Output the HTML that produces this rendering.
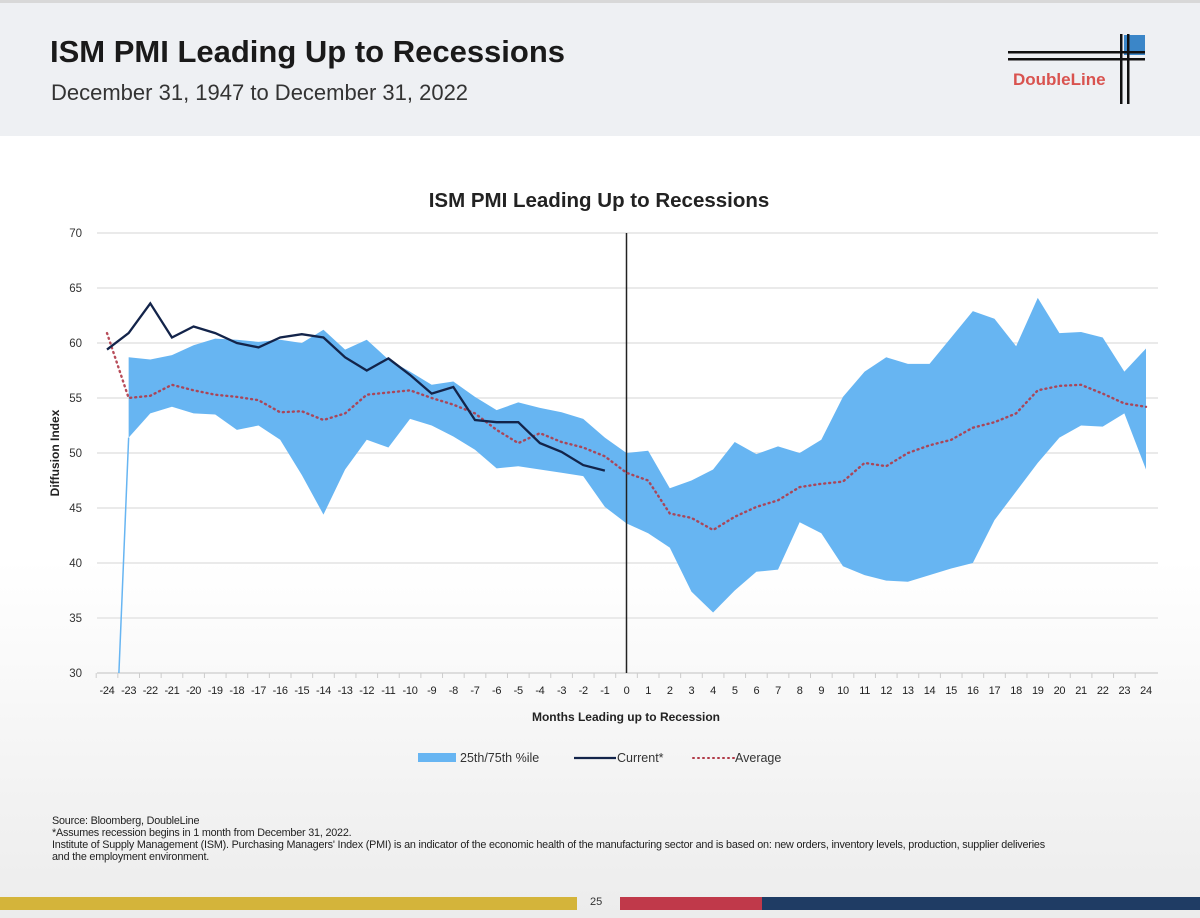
<!DOCTYPE html>
<html><head><meta charset="utf-8"><style>
html,body{margin:0;padding:0;}
body{width:1200px;height:918px;overflow:hidden;font-family:"Liberation Sans",sans-serif;background:linear-gradient(#fff 0px,#fff 560px,#ececec 918px);position:relative;}
.hdr{position:absolute;left:0;top:0;width:1200px;height:136px;background:#eef0f3;border-top:3px solid #d8d8d8;box-sizing:border-box;}
.t1{position:absolute;left:50px;top:31px;font-size:31px;font-weight:bold;color:#1a1a1a;}
.t2{position:absolute;left:51px;top:77px;font-size:22px;color:#333;}
.foot{position:absolute;left:52px;font-size:10.8px;color:#222;line-height:12px;letter-spacing:-0.2px;}
</style></head><body>
<div class="hdr">
<div class="t1">ISM PMI Leading Up to Recessions</div>
<div class="t2">December 31, 1947 to December 31, 2022</div>
<svg style="position:absolute;left:1000px;top:25px" width="160" height="90">
<rect x="124" y="7" width="21" height="20" fill="#3b86c8"/>
<rect x="8" y="23" width="137" height="2.5" fill="#111"/><rect x="8" y="30" width="137" height="2.5" fill="#111"/>
<rect x="120" y="6" width="2.5" height="70" fill="#111"/><rect x="127" y="6" width="2.5" height="70" fill="#111"/>
<text x="13" y="57" font-size="17" font-weight="bold" fill="#d9534f" font-family="Liberation Sans">DoubleLine</text>
</svg>
</div>
<svg id="chart" width="1200" height="918" style="position:absolute;left:0;top:0"></svg>
<div class="foot" style="top:815px">Source: Bloomberg, DoubleLine<br>*Assumes recession begins in 1 month from December 31, 2022.<br>Institute of Supply Management (ISM). Purchasing Managers' Index (PMI) is an indicator of the economic health of the manufacturing sector and is based on: new orders, inventory levels, production, supplier deliveries<br>and the employment environment.</div>
<div style="position:absolute;left:0;top:897px;width:577px;height:13px;background:#d4b43a"></div>
<div style="position:absolute;left:590px;top:896px;font-size:11px;color:#333">25</div>
<div style="position:absolute;left:620px;top:897px;width:142px;height:13px;background:#c0394a"></div>
<div style="position:absolute;left:762px;top:897px;width:438px;height:13px;background:#1f3c64"></div>
<script>
const months=[];for(let m=-24;m<=24;m++)months.push(m);
const yTicks=[30,35,40,45,50,55,60,65,70];
const upper=[null,58.7,58.5,58.9,59.8,60.4,60.3,60.1,60.3,60.0,61.2,59.4,60.3,58.5,57.4,56.2,56.5,55.1,53.9,54.6,54.1,53.7,53.1,51.4,50.0,50.2,46.8,47.5,48.5,51.0,49.9,50.6,50.0,51.2,55.1,57.4,58.7,58.1,58.1,60.5,62.9,62.2,59.7,64.1,60.9,61.0,60.5,57.4,59.5];
const lower=[null,51.4,53.6,54.2,53.6,53.5,52.1,52.5,51.2,48.0,44.4,48.5,51.2,50.5,53.1,52.5,51.5,50.3,48.6,48.8,48.5,48.2,47.9,45.1,43.6,42.7,41.4,37.4,35.5,37.5,39.2,39.4,43.7,42.7,39.7,38.9,38.4,38.3,38.9,39.5,40.0,43.9,46.5,49.1,51.4,52.5,52.4,53.6,48.5];
const current=[59.4,60.9,63.6,60.5,61.5,60.9,60.0,59.6,60.5,60.8,60.5,58.7,57.5,58.6,57.1,55.4,56.0,53.0,52.8,52.8,50.9,50.1,48.9,48.4];
const average=[60.9,55.0,55.2,56.2,55.7,55.3,55.1,54.8,53.7,53.8,53.0,53.6,55.3,55.5,55.7,55.0,54.4,53.6,52.1,50.9,51.8,51.0,50.5,49.7,48.2,47.5,44.5,44.1,43.0,44.2,45.1,45.7,46.9,47.2,47.4,49.1,48.8,50.0,50.7,51.2,52.3,52.8,53.6,55.7,56.1,56.2,55.4,54.5,54.2];
const NS='http://www.w3.org/2000/svg',svg=document.getElementById('chart');
const X0=107,X1=1146,Y0=673,Y1=233;
const x=m=>X0+(m+24)*(X1-X0)/48, y=v=>Y0-(v-30)*(Y0-Y1)/40;
function mk(t,a,p){const e=document.createElementNS(NS,t);for(const k in a)e.setAttribute(k,a[k]);(p||svg).appendChild(e);return e;}
yTicks.forEach(v=>{
 const g=mk('line',{x1:97,x2:1158,y1:y(v),y2:y(v),stroke:'#e3e3e3','stroke-width':1.5});
 
 
 const t=mk('text',{x:82,y:y(v)+4,'text-anchor':'end','font-size':11.5,fill:'#333'});t.textContent=v;
 
 
});
mk('line',{x1:97,x2:1158,y1:Y0,y2:Y0,stroke:'#ccc'});
months.forEach(m=>{
 const t=mk('text',{x:x(m),y:694,'text-anchor':'middle','font-size':11,'letter-spacing':'-0.3',fill:'#222'});t.textContent=m;
 
 
 mk('line',{x1:x(m)-10.8,x2:x(m)-10.8,y1:Y0,y2:Y0+5,stroke:'#ccc'});
});
let up=[],lo=[];
months.forEach((m,i)=>{if(upper[i]!=null){up.push(x(m)+','+y(upper[i]));lo.unshift(x(m)+','+y(lower[i]));}});
const band=mk('polygon',{points:up.concat(lo).join(' '),fill:'#67b5f2'});


const sp=mk('line',{x1:x(-23.45),y1:Y0,x2:x(-23),y2:y(lower[1]),stroke:'#67b5f2','stroke-width':1.5});


const vl=mk('line',{x1:x(0),x2:x(0),y1:Y1,y2:Y0,stroke:'#222','stroke-width':1.5});


const avg=mk('polyline',{points:months.map((m,i)=>x(m)+','+y(average[i])).join(' '),fill:'none',stroke:'#b03a48','stroke-width':2.4,'stroke-dasharray':'1 4','stroke-linecap':'round',opacity:0.9});


const cur=mk('polyline',{points:current.map((v,i)=>x(months[i])+','+y(v)).join(' '),fill:'none',stroke:'#13244a','stroke-width':2.3});


function txt(s,a,n){const t=mk('text',a);t.textContent=s;return t;}
txt('ISM PMI Leading Up to Recessions',{x:599,y:207,'text-anchor':'middle','font-size':20.5,'font-weight':'bold',fill:'#222'},'chart-title');
txt('Months Leading up to Recession',{x:626,y:721,'text-anchor':'middle','font-size':12,'font-weight':'bold',fill:'#222'},'x-axis-title');
txt('Diffusion Index',{x:0,y:0,'text-anchor':'middle','font-size':12,'font-weight':'bold',fill:'#222',transform:'translate(59,453) rotate(-90)'},'y-axis-title');
mk('rect',{x:418,y:753,width:38,height:9,fill:'#67b5f2'});
txt('25th/75th %ile',{x:460,y:762,'font-size':12.5,fill:'#333'},'legend-band');
mk('line',{x1:574,x2:616,y1:758,y2:758,stroke:'#13244a','stroke-width':2.3});
txt('Current*',{x:617,y:762,'font-size':12.5,fill:'#333'},'legend-current');
mk('line',{x1:693,x2:734,y1:758,y2:758,stroke:'#b03a48','stroke-width':2,'stroke-dasharray':'1 4','stroke-linecap':'round'});
txt('Average',{x:735,y:762,'font-size':12.5,fill:'#333'},'legend-average');
</script>
</body></html>
